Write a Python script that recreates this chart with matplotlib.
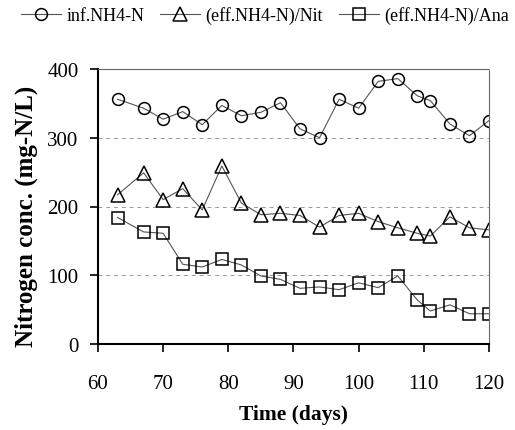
import matplotlib
matplotlib.use("Agg")
import matplotlib.pyplot as plt

days = [63, 67, 70, 73, 76, 79, 82, 85, 88, 91, 94, 97, 100, 103, 106, 109, 111, 114, 117, 120]
inf_nh4 = [356, 343, 327, 338, 319, 347, 332, 337, 351, 313, 300, 356, 343, 382, 386, 361, 354, 320, 303, 325]
eff_nit = [217, 249, 210, 226, 195, 259, 205, 188, 190, 187, 170, 187, 190, 178, 169, 161, 157, 185, 169, 166]
eff_ana = [184, 163, 161, 116, 112, 123, 115, 99, 94, 81, 83, 79, 89, 82, 99, 64, 48, 57, 44, 44]

labels = ["inf.NH4-N", "(eff.NH4-N)/Nit", "(eff.NH4-N)/Ana"]
xticks = [60, 70, 80, 90, 100, 110, 120]
yticks = [0, 100, 200, 300, 400]

plt.rcParams['font.family'] = ['Liberation Serif', 'DejaVu Serif']

fig = plt.figure(figsize=(5.15, 4.31), dpi=100)
ax = fig.add_axes([98/515, 1-345/431, 391/515, 275/431])

line_kw = dict(color='#555555', linewidth=0.8, markerfacecolor='none',
               markeredgecolor='black', markeredgewidth=1.1)
h1, = ax.plot(days, inf_nh4, marker='o', markersize=8.5, label=labels[0], **line_kw)
h2, = ax.plot(days, eff_nit, marker='^', markersize=10, label=labels[1], **line_kw)
h3, = ax.plot(days, eff_ana, marker='s', markersize=8, label=labels[2], **line_kw)

ax.set_xlim(60, 120)
ax.set_ylim(0, 400)
ax.set_xticks(xticks)
ax.set_yticks(yticks)
for y in yticks[1:-1]:
    ax.axhline(y, color='#999999', linestyle=(0, (4, 4)), linewidth=0.7, zorder=0)

ax.tick_params(axis='both', direction='out', length=6, width=1.2, labelsize=15)
ax.tick_params(axis='x', pad=15.5)
ax.tick_params(axis='y', pad=8)
for s in ['left', 'bottom']:
    ax.spines[s].set_linewidth(1.5)
for s in ['top', 'right']:
    ax.spines[s].set_linewidth(0.8)
    ax.spines[s].set_color('#666666')
    ax.spines[s].set_linestyle((0, (1, 1)))

ax.set_xlabel("Time (days)", fontsize=15.5, fontweight='bold', labelpad=8)
ax.set_ylabel("Nitrogen conc. (mg-N/L)", fontsize=18, fontweight='bold')
ax.yaxis.set_label_coords((38-98)/391, (345-216)/275)

fig.legend(handles=[h1, h2, h3], labels=labels, loc='center', bbox_to_anchor=(0.515, 1-16/431),
           ncol=3, frameon=False, fontsize=13, handlelength=2.2, handletextpad=0.3, columnspacing=0.9)

fig.savefig("out.png", dpi=100)
